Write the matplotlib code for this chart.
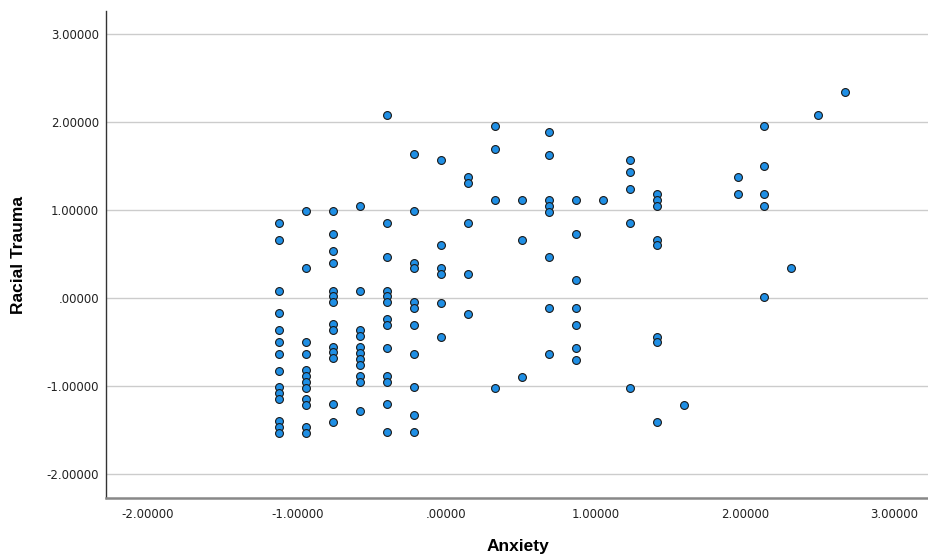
import matplotlib
matplotlib.use('Agg')
import matplotlib.pyplot as plt

# Anxiety (z-score) and Racial Trauma (z-score)
anxiety = [
    -1.121, -1.121, -1.121, -1.121, -1.121, -1.121, -1.121, -1.121, -1.121, -1.121, -1.121, -1.121, -1.121, -1.121,
    -0.940, -0.940, -0.940, -0.940, -0.940, -0.940, -0.940, -0.940, -0.940, -0.940, -0.940, -0.940,
    -0.760, -0.760, -0.760, -0.760, -0.760, -0.760, -0.760, -0.760, -0.760, -0.760, -0.760, -0.760, -0.760, -0.760,
    -0.579, -0.579, -0.579, -0.579, -0.579, -0.579, -0.579, -0.579, -0.579, -0.579, -0.579,
    -0.399, -0.399, -0.399, -0.399, -0.399, -0.399, -0.399, -0.399, -0.399, -0.399, -0.399, -0.399, -0.399,
    -0.218, -0.218, -0.218, -0.218, -0.218, -0.218, -0.218, -0.218, -0.218, -0.218, -0.218,
    -0.038, -0.038, -0.038, -0.038, -0.038, -0.038,
    0.143, 0.143, 0.143, 0.143, 0.143,
    0.323, 0.323, 0.323, 0.323,
    0.504, 0.504, 0.504,
    0.684, 0.684, 0.684, 0.684, 0.684, 0.684, 0.684, 0.684,
    0.865, 0.865, 0.865, 0.865, 0.865, 0.865, 0.865,
    1.045,
    1.226, 1.226, 1.226, 1.226, 1.226,
    1.406, 1.406, 1.406, 1.406, 1.406, 1.406, 1.406, 1.406,
    1.587,
    1.948, 1.948,
    2.128, 2.128, 2.128, 2.128, 2.128,
    2.309,
    2.489,
    2.670,
]

racial_trauma = [
    0.856, 0.667, 0.083, -0.170, -0.364, -0.492, -0.629, -0.822, -1.010, -1.078, -1.147, -1.397, -1.458, -1.526,
    0.989, 0.341, -0.492, -0.629, -0.814, -0.882, -0.950, -1.018, -1.140, -1.208, -1.458, -1.526,
    0.989, 0.731, 0.534, 0.405, 0.083, 0.023, -0.042, -0.295, -0.364, -0.553, -0.614, -0.680, -1.204, -1.401,
    1.053, 0.083, -0.364, -0.432, -0.553, -0.621, -0.689, -0.758, -0.879, -0.947, -1.276,
    2.083, 0.856, 0.473, 0.083, 0.023, -0.042, -0.231, -0.299, -0.561, -0.879, -0.947, -1.205, -1.523,
    1.636, 0.989, 0.405, 0.341, -0.042, -0.110, -0.303, -0.629, -1.008, -1.330, -1.523,
    1.570, 0.601, 0.342, 0.278, -0.049, -0.437,
    1.380, 1.308, 0.856, 0.278, -0.179,
    1.958, 1.696, 1.118, -1.019,
    1.118, 0.662, -0.890,
    1.894, 1.635, 1.118, 1.053, 0.985, 0.468, -0.114, -0.631,
    1.118, 0.730, 0.209, -0.114, -0.308, -0.567, -0.696,
    1.118,
    1.570, 1.441, 1.247, 0.856, -1.019,
    1.183, 1.118, 1.053, 0.665, 0.601, -0.437, -0.502, -1.407,
    -1.213,
    1.376, 1.183,
    1.958, 1.506, 1.183, 1.053, 0.015,
    0.342,
    2.087,
    2.342,
]

x_ticks = [-2, -1, 0, 1, 2, 3]
y_ticks = [-2, -1, 0, 1, 2, 3]


def spss_fmt(v):
    # SPSS style: 5 decimals, no leading zero for 0
    if v == 0:
        return '.00000'
    return '%.5f' % v


fig = plt.figure(figsize=(9.29, 5.57), dpi=100)
ax = fig.add_axes([0.1141, 0.1052, 0.8859, 0.8756])

ax.scatter(anxiety, racial_trauma, s=32, c='#1f8fe5', edgecolors='#1a1a1a',
           linewidths=0.8, zorder=3)

ax.set_xlim(-2.28, 3.23)
ax.set_ylim(-2.275, 3.27)
ax.set_xticks(x_ticks)
ax.set_yticks(y_ticks)
ax.set_xticklabels([spss_fmt(v) for v in x_ticks])
ax.set_yticklabels([spss_fmt(v) for v in y_ticks])
ax.tick_params(axis='both', length=0, labelsize=8.5, colors='#222222')
ax.tick_params(axis='x', pad=7)
ax.tick_params(axis='y', pad=5)

ax.grid(axis='y', color='#cccccc', linewidth=1.0)
ax.set_axisbelow(True)

ax.spines['top'].set_visible(False)
ax.spines['right'].set_visible(False)
ax.spines['left'].set_color('#333333')
ax.spines['left'].set_linewidth(1.0)
ax.spines['bottom'].set_color('#888888')
ax.spines['bottom'].set_linewidth(1.8)

ax.set_xlabel('Anxiety', fontsize=12.5, fontweight='bold', family='Liberation Sans', labelpad=13)
ax.set_ylabel('Racial Trauma', fontsize=12.5, fontweight='bold', family='Liberation Sans', labelpad=15)

plt.savefig('out.png', dpi=100)
